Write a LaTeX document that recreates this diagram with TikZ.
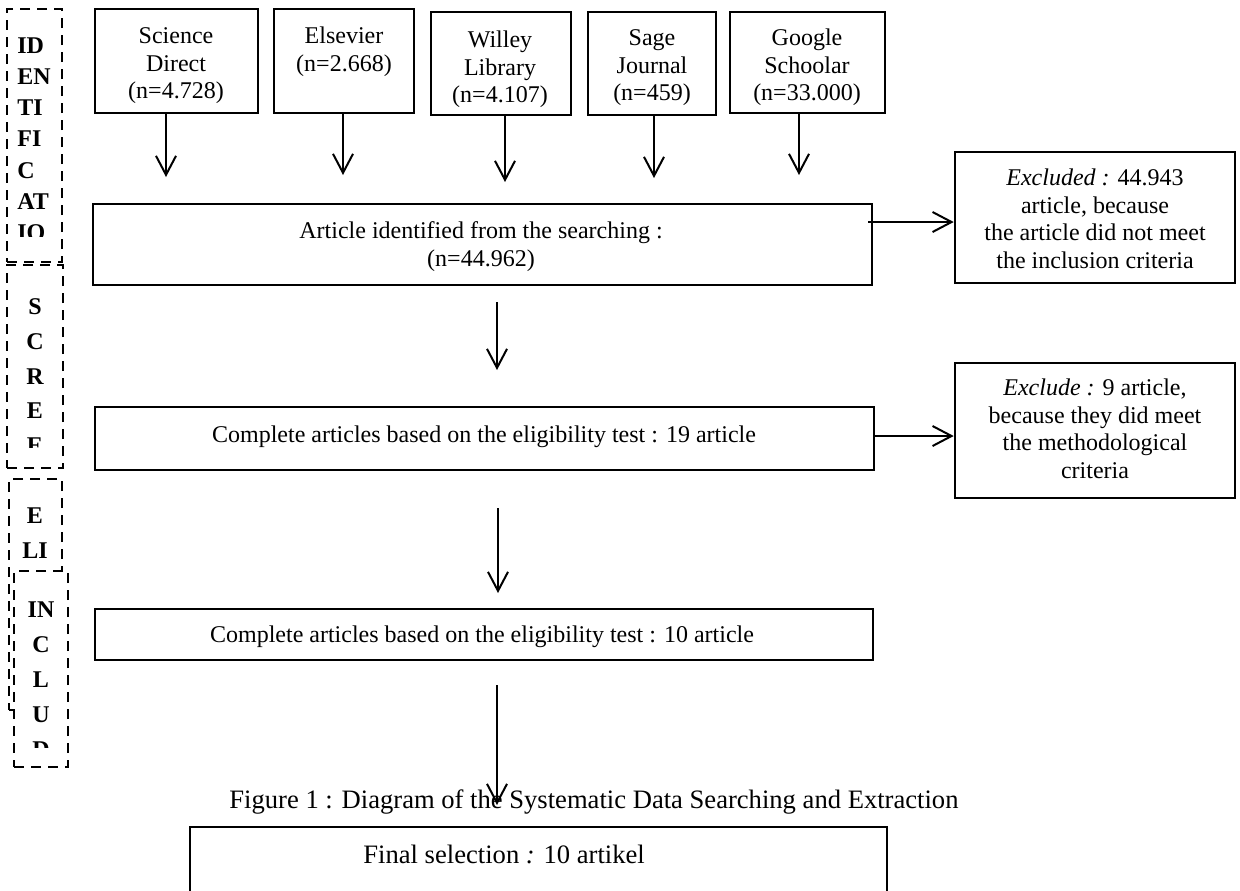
\documentclass[tikz,border=0pt]{standalone}
\usepackage{fontspec}
\setmainfont{Liberation Serif}
\usetikzlibrary{arrows.meta,fit}
\begin{document}
\begin{tikzpicture}[x=0.5pt,y=-0.5pt,
  every node/.style={font=\fontsize{12}{13.8}\selectfont, inner sep=0pt},
  box/.style={draw, line width=1.3pt, inner sep=0pt},
  dbox/.style={draw, line width=1.3pt, dash pattern=on 5pt off 3.5pt, inner sep=0pt},
  txt/.style={align=center, anchor=north},
  line/.style={anchor=base},
  bigline/.style={anchor=base west, font=\fontsize{13.3}{15.3}\selectfont},
  stage/.style={font=\fontsize{12}{13.8}\selectfont\bfseries, anchor=base},
  arr/.style={line width=1pt, -{Straight Barb[length=9.5pt,width=10pt]}},
]
\useasboundingbox (0,0) rectangle (1240,890);

% ---------- stage labels (dashed boxes) ----------
\node[dbox, fit={(7,9) (62,262)}] (idbox) {};
\begin{scope}
  \clip (7,9) rectangle (62,236);
  \node[stage, anchor=base west] (id1) at (17,53) {ID};
  \node[stage, anchor=base west] (id2) at (17,84.3) {EN};
  \node[stage, anchor=base west] (id3) at (17,115.6) {TI};
  \node[stage, anchor=base west] (id4) at (17,146.9) {FI};
  \node[stage, anchor=base west] (id5) at (17,178.2) {C};
  \node[stage, anchor=base west] (id6) at (17,209.5) {AT};
  \node[stage, anchor=base west] (id7) at (17,240.8) {IO};
\end{scope}

\node[dbox, fit={(7,265) (63,468)}] (scbox) {};
\begin{scope}
  \clip (7,265) rectangle (63,447);
  \node[stage] (sc1) at (35,314) {S};
  \node[stage] (sc2) at (35,349) {C};
  \node[stage] (sc3) at (35,384) {R};
  \node[stage] (sc4) at (35,418) {E};
  \node[stage] (sc5) at (35,453) {E};
\end{scope}

\node[dbox, fit={(9,479) (62,710)}] (elbox) {};
\node[stage] (el1) at (35,523) {E};
\node[stage] (el2) at (35,558) {LI};

\node[dbox, fill=white, fit={(14,571) (68,767)}] (inbox) {};
\begin{scope}
  \clip (14,571) rectangle (68,747);
  \node[stage] (in1) at (41,617) {IN};
  \node[stage] (in2) at (41,652) {C};
  \node[stage] (in3) at (41,687) {L};
  \node[stage] (in4) at (41,722) {U};
  \node[stage] (in5) at (41,757) {D};
\end{scope}

% ---------- sources ----------
\node[box, fit={(95,9) (258,113)}] (sd) {};
\node[txt] (sdt) at (176,25) {\rule{0pt}{9pt}Science\\Direct\\(n=4.728)};
\node[box, fit={(274,9) (414,113)}] (els) {};
\node[txt] (elst) at (344,25) {\rule{0pt}{9pt}Elsevier\\(n=2.668)};
\node[box, fit={(431,12) (571,115)}] (wil) {};
\node[txt] (wilt) at (500,29) {\rule{0pt}{9pt}Willey\\Library\\(n=4.107)};
\node[box, fit={(588,12) (716,115)}] (sage) {};
\node[txt] (saget) at (652,27) {\rule{0pt}{9pt}Sage\\Journal\\(n=459)};
\node[box, fit={(730,12) (885,113)}] (goo) {};
\node[txt] (goot) at (807,27) {\rule{0pt}{9pt}Google\\Schoolar\\(n=33.000)};

\coordinate (a1) at (166,177);
\coordinate (a2) at (343,175);
\coordinate (a3) at (505,182);
\coordinate (a4) at (654,178);
\coordinate (a5) at (799,175);
\draw[arr] (sd.south -| a1) -- (a1);
\draw[arr] (els.south -| a2) -- (a2);
\draw[arr] (wil.south -| a3) -- (a3);
\draw[arr] (sage.south -| a4) -- (a4);
\draw[arr] (goo.south -| a5) -- (a5);

% ---------- main flow ----------
\node[box, fit={(93,204) (872,285)}] (art) {};
\node[txt] (artt) at (481,220) {\rule{0pt}{9pt}Article identified from the searching :\\(n=44.962)};

\node[box, fit={(955,152) (1235,283)}] (ex1) {};
\node[txt] (ex1t) at (1095,167) {\rule{0pt}{9pt}\textit{Excluded :} 44.943\\article, because\\the article did not meet\\the inclusion criteria};
\coordinate (h1) at (868,222);
\draw[arr] (h1) -- (h1 -| ex1.west);

\coordinate (v1a) at (497,302);
\coordinate (v1b) at (497,370);
\draw[arr] (v1a) -- (v1b);

\node[box, fit={(95,407) (874,470)}] (s19) {};
\node[line] (s19t) at (484,442) {Complete articles based on the eligibility test : 19 article};

\node[box, fit={(955,363) (1235,498)}] (ex2) {};
\node[txt] (ex2t) at (1095,377) {\rule{0pt}{9pt}\textit{Exclude :} 9 article,\\because they did meet\\the methodological\\criteria};
\coordinate (h2) at (874,436);
\draw[arr] (h2) -- (h2 -| ex2.west);

\coordinate (v2a) at (498,508);
\coordinate (v2b) at (498,593);
\draw[arr] (v2a) -- (v2b);

\node[box, fit={(95,609) (873,660)}] (s10) {};
\node[line] (s10t) at (482,642) {Complete articles based on the eligibility test : 10 article};

\node[bigline] (cap) at (229,808) {Figure 1 : Diagram of the Systematic Data Searching and Extraction};

\coordinate (v3a) at (497,685);
\coordinate (v3b) at (497,805);
\draw[arr] (v3a) -- (v3b);

\node[box, fit={(190,827) (887,905)}] (fin) {};
\node[bigline] (fint) at (363,863) {Final selection \textit{:} 10 artikel};
\end{tikzpicture}
\end{document}
